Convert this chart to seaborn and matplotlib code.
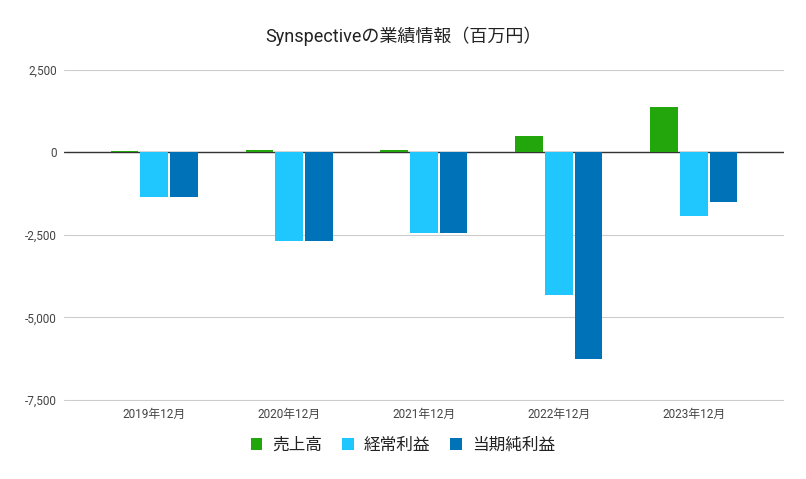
import pandas as pd
import seaborn as sns
import matplotlib.pyplot as plt
from matplotlib.patches import Patch
from matplotlib.ticker import FuncFormatter

# Data (百万円)
years = ["2019年12月", "2020年12月", "2021年12月", "2022年12月", "2023年12月"]
sales = [40, 80, 70, 500, 1370]
ordinary_profit = [-1347, -2680, -2440, -4320, -1923]
net_profit = [-1347, -2680, -2440, -6270, -1500]

series_names = ["売上高", "経常利益", "当期純利益"]
colors = ["#22a60c", "#20c7fe", "#0072b7"]

df = pd.DataFrame({
    "year": years * 3,
    "series": [series_names[0]] * 5 + [series_names[1]] * 5 + [series_names[2]] * 5,
    "value": sales + ordinary_profit + net_profit,
})

sns.set_theme(style="white")
plt.rcParams["font.family"] = ["Roboto", "Noto Sans CJK JP", "DejaVu Sans"]

fig = plt.figure(figsize=(8.06, 4.79), dpi=100)
ax = fig.add_axes([0.079, 0.163, 0.894, 0.691])

ax.axhline(0, color="#333333", linewidth=1.0, zorder=2)

sns.barplot(
    data=df, x="year", y="value", hue="series",
    palette=colors, width=0.66, gap=0.07,
    saturation=1, legend=False, ax=ax, zorder=3,
    linewidth=0, edgecolor="none"
)

ax.set_ylim(-7530, 2500)
ax.set_xlim(-0.67, 4.67)
ax.set_yticks([2500, 0, -2500, -5000, -7500])
ax.yaxis.set_major_formatter(FuncFormatter(lambda v, p: f"{int(v):,}"))
ax.grid(axis="y", color="#cccccc", linewidth=0.8, zorder=0)

for s in ax.spines.values():
    s.set_visible(False)
ax.tick_params(axis="both", length=0, labelsize=8.5, colors="#444444")
ax.tick_params(axis="x", pad=5)
ax.tick_params(axis="y", pad=5)
ax.set_xlabel("")
ax.set_ylabel("")

fig.suptitle("Synspectiveの業績情報（百万円）", x=0.5, y=0.945,
             fontsize=13, color="#222222")

handles = [Patch(facecolor=c, edgecolor="none") for c in colors]
fig.legend(handles, series_names, loc="center", bbox_to_anchor=(0.5, 0.071),
           ncol=3, frameon=False, fontsize=12, handlelength=0.7,
           handleheight=0.7, handletextpad=0.6, columnspacing=1.2,
           labelcolor="#222222")

plt.savefig("out.png", dpi=100)
plt.close()
